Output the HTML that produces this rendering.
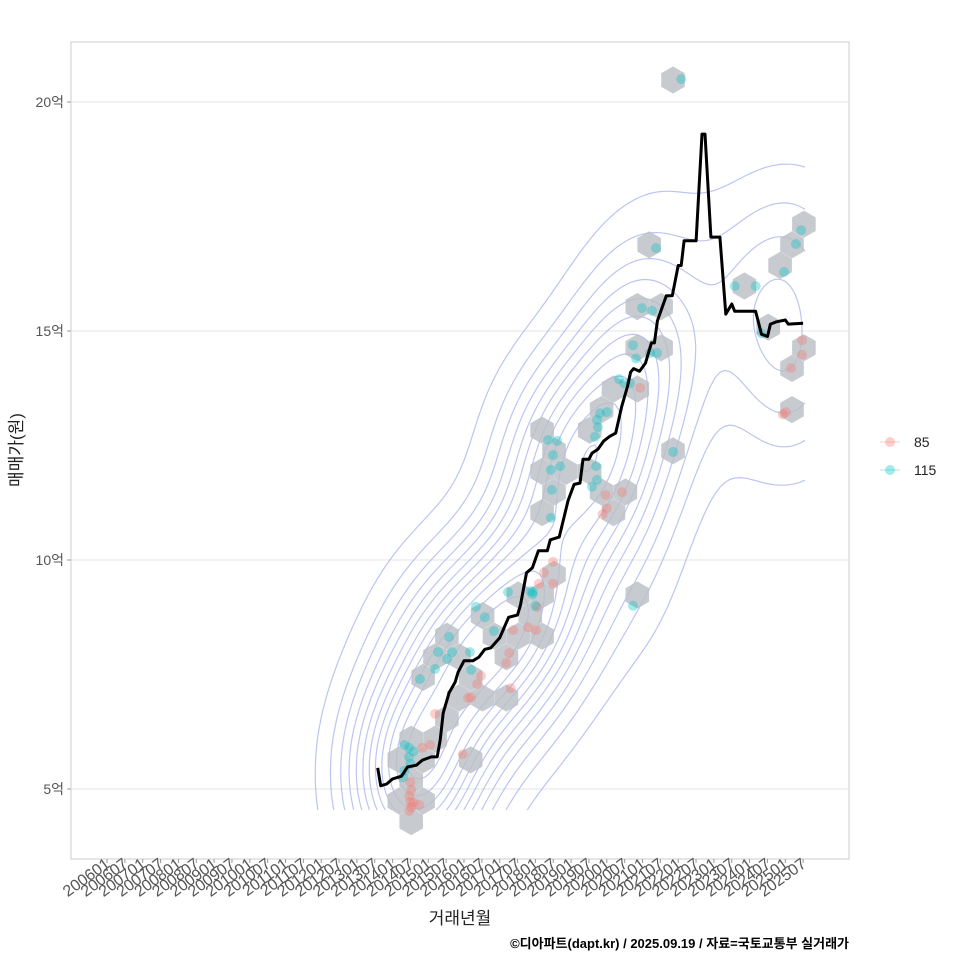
<!DOCTYPE html>
<html><head><meta charset="utf-8"><style>
body{margin:0;background:#fff;}
svg{display:block;font-family:"Liberation Sans","Noto Sans CJK KR",sans-serif;}
</style></head><body>
<svg id="chart" width="960" height="960" xmlns="http://www.w3.org/2000/svg">
<rect x="71" y="42" width="778" height="817" fill="#fff" stroke="#cccccc"/>
<g id="grid"></g>
<g id="contours"></g>
<g id="hexes"></g>
<g id="points"></g>
<g id="line"></g>
<g id="yaxis"></g>
<g id="xaxis"></g>
<text x="22" y="450" transform="rotate(-90 22 450)" text-anchor="middle" font-size="17" fill="#222">매매가(원)</text>
<text x="460" y="924" text-anchor="middle" font-size="17" fill="#222">거래년월</text>
<text x="849" y="948" text-anchor="end" font-size="13" font-weight="bold" fill="#000">©디아파트(dapt.kr) / 2025.09.19 / 자료=국토교통부 실거래가</text>
<g>
  <g>
    <line x1="880" y1="442" x2="900" y2="442" stroke="#F8766D" stroke-opacity="0.35" stroke-width="1"/>
    <circle cx="890" cy="442" r="5" fill="#F8766D" fill-opacity="0.35"/>
    <text x="914" y="447" font-size="14" fill="#222">85</text>
  </g>
  <g>
    <line x1="880" y1="470" x2="900" y2="470" stroke="#00BFC4" stroke-opacity="0.35" stroke-width="1"/>
    <circle cx="890" cy="470" r="5" fill="#00BFC4" fill-opacity="0.35"/>
    <text x="914" y="475" font-size="14" fill="#222">115</text>
  </g>
</g>
</svg>
<script>
// ===== data (month index from 2006-01, price in 억) =====
const yTicks = [5, 10, 15, 20];
const yTickLabels = ["5억", "10억", "15억", "20억"];
const xTickLabels = [];
for (let y = 2006; y <= 2025; y++) { xTickLabels.push(y + "01"); xTickLabels.push(y + "07"); }
const lineMonths = [91,92,94,96,99,101,104,106,109,111,112,113,115,117,118,120,123,125,127,129,132,133,135,138,139,141,143,145,148,149,152,155,157,159,160,162,163,165,167,169,171,173,175,176,177,179,181,183,184,185,188,190,192,193,194,198,200,201,203,206,208,210,211,218,220,222,223,225,228,229,234];
const lineValues = [5.46,5.07,5.11,5.22,5.28,5.48,5.52,5.63,5.7,5.7,6.07,6.66,7.1,7.33,7.55,7.8,7.8,7.88,8.05,8.08,8.3,8.45,8.75,8.8,9.02,9.72,9.83,10.2,10.2,10.44,10.5,11.3,11.65,11.68,12.2,12.2,12.33,12.42,12.6,12.7,12.77,13.35,13.8,14.1,14.18,14.12,14.3,14.74,14.74,15.22,15.77,15.77,16.43,16.43,16.97,16.97,19.3,19.3,17.05,17.05,15.37,15.59,15.43,15.43,14.93,14.88,15.15,15.2,15.24,15.15,15.17];
const p115Months = [193,184.5,211,218,227.6,231.6,233.3,179.8,183.2,176.8,177.8,182.5,184.9,172.1,173.8,175.8,165.7,168,164.7,165,164,148.2,151.3,149.9,149.2,149.5,152.3,190.3,164.4,164.7,163,149.2,176.8,143.2,134.8,142.4,143,144,124,127,130,115,111.3,114.3,116,122,110.3,105.2,122.4,100,101.5,103,101.5,102,100,99.5,220];
const p115Values = [20.5,16.81,15.98,15.98,16.29,16.9,17.2,15.5,15.44,14.69,14.4,14.52,14.52,13.95,13.86,13.86,13.2,13.23,13.06,12.9,12.69,12.62,12.6,12.29,11.97,11.53,12.05,12.36,12.05,11.75,11.6,10.92,9.0,9.3,9.3,9.32,9.25,9.0,8.98,8.75,8.45,8.32,7.99,7.84,7.99,7.99,7.62,7.4,7.6,5.96,5.9,5.82,5.7,5.55,5.4,5.25,14.95];
const p85Months = [233.6,233.6,229.9,228.2,227.2,179.2,168,166.6,167.6,173.1,149.9,146.9,145.2,149.9,144.6,136.5,141.5,144.2,135.2,134.2,125.7,124.4,122.4,121.3,135.7,110.3,119.6,108.6,106,102,102.3,101.6,102,102.3,101.6,105,103];
const p85Values = [14.8,14.48,14.19,13.23,13.18,13.76,11.13,11.0,11.42,11.48,9.96,9.72,9.48,9.48,8.97,8.47,8.53,8.47,7.97,7.75,7.47,7.29,7.0,6.99,7.2,6.64,5.76,5.96,5.9,5.15,4.98,4.85,4.72,4.6,4.52,4.65,4.7];

// ===== axes =====
const NS = "http://www.w3.org/2000/svg";
const X0 = 107, MSTEP = 2.975;
function xScale(m) { return X0 + m * MSTEP; }
function yScale(v) { return 789 - (v - 5) * 45.8; }
function mk(tag, attrs, parent) {
  const e = document.createElementNS(NS, tag);
  for (const k in attrs) e.setAttribute(k, attrs[k]);
  parent.appendChild(e); return e;
}
const grid = document.getElementById("grid"), yaxis = document.getElementById("yaxis"), xaxis = document.getElementById("xaxis");
yTicks.forEach((t, i) => {
  const y = yScale(t);
  const g = mk("line", {x1: 71, x2: 849, y1: y, y2: y, stroke: "#e6e6e6", "stroke-width": 1}, grid);
  
  
  const tk = mk("line", {x1: 67, x2: 71, y1: y, y2: y, stroke: "#999"}, yaxis);
  
  
  const tx = mk("text", {x: 64, y: y + 5, "text-anchor": "end", "font-size": 14, fill: "#555"}, yaxis);
  tx.textContent = yTickLabels[i];
  
  
});
xTickLabels.forEach((lab, i) => {
  const x = xScale(i * 6);
  const tk = mk("line", {x1: x, x2: x, y1: 859, y2: 863, stroke: "#999"}, xaxis);
  
  
  const tx = mk("text", {x: x + 4, y: 866, "text-anchor": "end", "font-size": 16, fill: "#555", transform: `rotate(-36 ${x + 4} 866)`}, xaxis);
  tx.textContent = lab;
  
  
});

// ===== all points in pixels =====
const pts = [];
p85Months.forEach((m, i) => pts.push([xScale(m), yScale(p85Values[i]), 0]));
p115Months.forEach((m, i) => pts.push([xScale(m), yScale(p115Values[i]), 1]));

// ===== density contours (KDE + marching squares) =====
(function () {
  const cg = document.getElementById("contours");
  const gx0 = 315, gx1 = 806, gy0 = 150, gy1 = 814, step = 5;
  const bx = 44, by = 64;
  const nx = Math.floor((gx1 - gx0) / step) + 1, ny = Math.floor((gy1 - gy0) / step) + 1;
  const D = [];
  let mx = 0;
  for (let j = 0; j < ny; j++) {
    const row = [];
    for (let i = 0; i < nx; i++) {
      const x = gx0 + i * step, y = gy0 + j * step;
      let s = 0;
      for (const p of pts) { const dx = (x - p[0]) / bx, dy = (y - p[1]) / by; s += Math.exp(-0.5 * (dx * dx + dy * dy)); }
      row.push(s); if (s > mx) mx = s;
    }
    D.push(row);
  }
  let d = "";
  const nl = 13;
  for (let k = 1; k < nl; k++) {
    const L = mx * k / nl;
    for (let j = 0; j < ny - 1; j++) for (let i = 0; i < nx - 1; i++) {
      const v = [D[j][i], D[j][i + 1], D[j + 1][i + 1], D[j + 1][i]];
      const c = [[gx0 + i * step, gy0 + j * step], [gx0 + (i + 1) * step, gy0 + j * step], [gx0 + (i + 1) * step, gy0 + (j + 1) * step], [gx0 + i * step, gy0 + (j + 1) * step]];
      const cr = [];
      for (let e = 0; e < 4; e++) {
        const a = v[e], b = v[(e + 1) % 4];
        if ((a < L) !== (b < L)) {
          const t = (L - a) / (b - a);
          const pa = c[e], pb = c[(e + 1) % 4];
          cr.push([pa[0] + t * (pb[0] - pa[0]), pa[1] + t * (pb[1] - pa[1])]);
        }
      }
      for (let q = 0; q + 1 < cr.length; q += 2) d += `M${cr[q][0].toFixed(1)},${cr[q][1].toFixed(1)}L${cr[q + 1][0].toFixed(1)},${cr[q + 1][1].toFixed(1)}`;
    }
  }
  const p = mk("path", {d: d, fill: "none", stroke: "#8f9fe8", "stroke-opacity": 0.6, "stroke-width": 1.2}, cg);
  
  
})();

// ===== hexbins =====
(function () {
  const hg = document.getElementById("hexes");
  const R = 13.6, DX = 23.8, DY = 20.6, OX = 673, OY = 80;
  const bins = {};
  for (const p of pts) {
    let best = null, bd = 1e9;
    const r0 = Math.round((p[1] - OY) / DY);
    for (let r = r0 - 1; r <= r0 + 1; r++) {
      const off = (((r % 2) + 2) % 2) ? DX / 2 : 0;
      const c0 = Math.round((p[0] - OX - off) / DX);
      for (let c = c0 - 1; c <= c0 + 1; c++) {
        const cx = OX + off + c * DX, cy = OY + r * DY;
        const dd = (p[0] - cx) ** 2 + (p[1] - cy) ** 2;
        if (dd < bd) { bd = dd; best = [cx, cy]; }
      }
    }
    bins[best[0].toFixed(1) + "," + best[1].toFixed(1)] = best;
  }
  for (const k in bins) {
    const [cx, cy] = bins[k];
    const pp = [];
    for (let a = 0; a < 6; a++) { const ang = -Math.PI / 2 + a * Math.PI / 3; pp.push((cx + R * Math.cos(ang)).toFixed(1) + "," + (cy + R * Math.sin(ang)).toFixed(1)); }
    const h = mk("polygon", {points: pp.join(" "), fill: "#b9bec4", "fill-opacity": 0.8}, hg);
    
    
  }
})();

// ===== points =====
(function () {
  const pg = document.getElementById("points");
  for (const p of pts) {
    const c = mk("circle", {cx: p[0].toFixed(1), cy: p[1].toFixed(1), r: 5, fill: p[2] ? "#00BFC4" : "#F8766D", "fill-opacity": 0.35}, pg);
    
    
  }
})();

// ===== line =====
(function () {
  const lg = document.getElementById("line");
  const d = lineMonths.map((m, i) => (i ? "L" : "M") + xScale(m).toFixed(1) + "," + yScale(lineValues[i]).toFixed(1)).join("");
  const p = mk("path", {d: d, fill: "none", stroke: "#000", "stroke-width": 3, "stroke-linejoin": "round"}, lg);
  
  
})();
</script>
</body></html>
